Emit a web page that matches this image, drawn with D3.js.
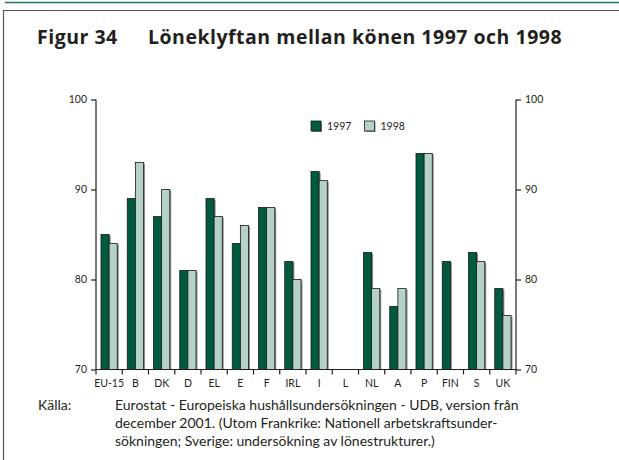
<!DOCTYPE html>
<html>
<head>
<meta charset="utf-8">
<script src="https://cdn.jsdelivr.net/npm/d3@7"></script>
<style>
  html, body { margin: 0; padding: 0; background: #fff; }
  svg { display: block; }
</style>
</head>
<body>
<svg id="chart" width="619" height="460"></svg>
<script>
// Gender pay gap per country, 1997 and 1998 (women's pay as % of men's)
const categories = ["EU-15", "B", "DK", "D", "EL", "E", "F", "IRL", "I", "L", "NL", "A", "P", "FIN", "S", "UK"];
const values1997 = [85, 89, 87, 81, 89, 84, 88, 82, 92, null, 83, 77, 94, 82, 83, 79];
const values1998 = [84, 93, 90, 81, 87, 86, 88, 80, 91, null, 79, 79, 94, null, 82, 76];
const seriesNames = ["1997", "1998"];
const yTicks = [70, 80, 90, 100];

const colors = { "1997": "#005a3f", "1998": "#b5d2c8" };
const textFont = "Lato, 'Open Sans', sans-serif";
const titleFont = "'Open Sans', Lato, sans-serif";

const svg = d3.select("#chart");

// frame: green rule across the top, grey box around the figure
svg.append("line").attr("x1", 5).attr("x2", 619).attr("y1", 2.5).attr("y2", 2.5)
  .attr("stroke", "#1f7a5a").attr("stroke-width", 1.5);
svg.append("path").attr("d", "M3.5,460 V10.5 H619")
  .attr("fill", "none").attr("stroke", "#555").attr("stroke-width", 1.2);

// title
const title = svg.append("text").attr("y", 44).attr("font-family", titleFont)
  .attr("font-weight", 700).attr("font-size", 19.5).attr("letter-spacing", 0.5)
  .attr("fill", "#231f20");
title.append("tspan").attr("x", 37).text("Figur 34");
title.append("tspan").attr("x", 148).text("Löneklyftan mellan könen 1997 och 1998");

// scales
const plotLeft = 96, plotRight = 516, plotTop = 99.5, plotBottom = 369.5;
const x0 = d3.scaleBand().domain(categories).range([plotLeft, plotRight]).padding(0);
const x1 = d3.scaleBand().domain(seriesNames).range([5, x0.bandwidth() - 5]).padding(0);
const y = d3.scaleLinear().domain([70, 100]).range([plotBottom, plotTop]);

const rows = categories.map((c, i) => ({ cat: c, "1997": values1997[i], "1998": values1998[i] }));

// bars with a small grey drop shadow on the right
const groups = svg.append("g").selectAll("g").data(rows).join("g")
  .attr("transform", d => `translate(${x0(d.cat)},0)`);

const barData = d => seriesNames.filter(s => d[s] != null).map(s => ({ key: s, value: d[s] }));

groups.selectAll("rect.shadow").data(barData).join("rect")
  .attr("class", "shadow")
  .attr("x", d => x1(d.key) + 1.5)
  .attr("y", d => y(d.value) + 1)
  .attr("width", x1.bandwidth())
  .attr("height", d => plotBottom - y(d.value) - 1)
  .attr("fill", "#8c8c8c");

groups.selectAll("rect.bar").data(barData).join("rect")
  .attr("class", "bar")
  .attr("x", d => x1(d.key))
  .attr("y", d => y(d.value))
  .attr("width", x1.bandwidth())
  .attr("height", d => plotBottom - y(d.value))
  .attr("fill", d => colors[d.key])
  .attr("stroke", "#1a1a1a")
  .attr("stroke-width", 0.8);

// axes
const axisFont = g => g.selectAll("text").attr("font-family", textFont)
  .attr("font-size", 10.5).attr("fill", "#231f20");

const yLeft = svg.append("g").attr("transform", `translate(${plotLeft},0)`)
  .call(d3.axisLeft(y).tickValues(yTicks).tickSize(5).tickPadding(4));
const yRight = svg.append("g").attr("transform", `translate(${plotRight},0)`)
  .call(d3.axisRight(y).tickValues(yTicks).tickSize(5).tickPadding(4));
const xAxis = svg.append("g").attr("transform", `translate(0,${plotBottom})`)
  .call(d3.axisBottom(x0).tickSize(0).tickPadding(10));

[yLeft, yRight, xAxis].forEach(g => {
  g.select(".domain").attr("stroke", "#231f20").attr("stroke-width", 1.2);
  g.selectAll(".tick line").attr("stroke", "#231f20").attr("stroke-width", 1.2);
  axisFont(g);
});
yLeft.select(".domain").attr("d", `M0,${plotTop}V${plotBottom}`);
yRight.select(".domain").attr("d", `M0,${plotTop}V${plotBottom}`);
xAxis.select(".domain").attr("d", `M${plotLeft},0H${plotRight}`);

// tick marks between the country groups
const boundaries = categories.map(c => x0(c)).concat([plotRight]);
xAxis.selectAll("line.sep").data(boundaries).join("line")
  .attr("class", "sep")
  .attr("x1", d => d).attr("x2", d => d)
  .attr("y1", 0).attr("y2", 5)
  .attr("stroke", "#231f20").attr("stroke-width", 1.2);

// legend
const legend = svg.append("g");
const legendX = { "1997": 311, "1998": 364.5 };
seriesNames.forEach(s => {
  legend.append("rect").attr("x", legendX[s] + 1).attr("y", 122).attr("width", 10).attr("height", 10)
    .attr("fill", "#8c8c8c");
  legend.append("rect").attr("x", legendX[s]).attr("y", 121).attr("width", 10).attr("height", 10)
    .attr("fill", colors[s]).attr("stroke", "#1a1a1a").attr("stroke-width", 0.8);
  legend.append("text").attr("x", legendX[s] + 16).attr("y", 130)
    .attr("font-family", textFont).attr("font-size", 10.5).attr("fill", "#231f20").text(s);
});

// source note
const note = svg.append("g").attr("font-family", textFont).attr("font-size", 14).attr("fill", "#231f20");
note.append("text").attr("x", 38).attr("y", 410).text("Källa:");
const noteLines = [
  "Eurostat - Europeiska hushållsundersökningen - UDB, version från",
  "december 2001. (Utom Frankrike: Nationell arbetskraftsunder-",
  "sökningen; Sverige: undersökning av lönestrukturer.)"
];
note.selectAll("text.line").data(noteLines).join("text")
  .attr("class", "line")
  .attr("x", 115)
  .attr("y", (d, i) => 410 + i * 18)
  .text(d => d);
</script>
</body>
</html>
